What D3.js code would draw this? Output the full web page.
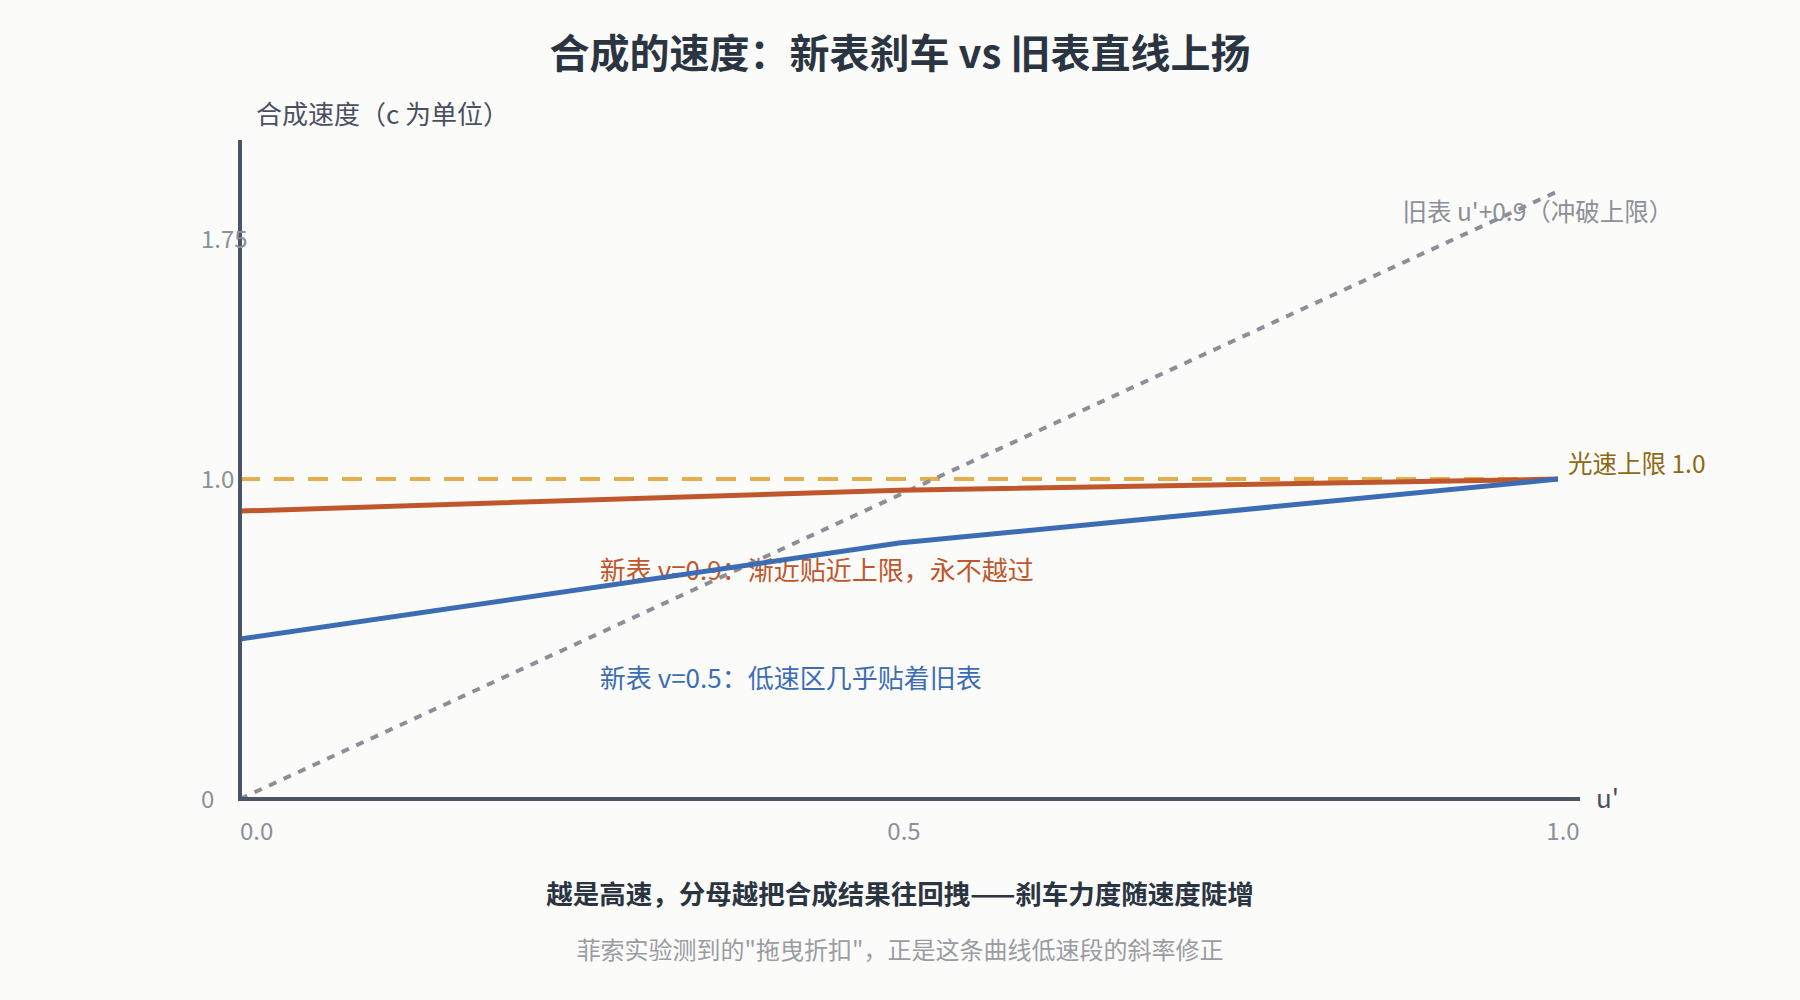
<!DOCTYPE html>
<html>
<head>
<meta charset="utf-8">
<script src="https://cdn.jsdelivr.net/npm/d3@7/dist/d3.min.js"></script>
<style>
  html, body { margin: 0; padding: 0; background: #fbfbf9; }
  svg { display: block; font-family: "Noto Sans CJK SC", "Noto Sans", sans-serif; }
</style>
</head>
<body>
<svg id="svg0" width="1800" height="1000"></svg>
<script>
// data
var uPrime = [0, 0.5, 1];
var newV05 = [0.5, 0.8, 1.0];       // (u'+0.5)/(1+0.5u')
var newV09 = [0.9, 0.9655, 1.0];    // (u'+0.9)/(1+0.9u')
var oldU = [0, 1];
var oldVals = [0, 1.9];
var lightLimit = 1.0;
var xTicks = [0, 0.5, 1];
var xTickLabels = ["0.0", "0.5", "1.0"];
var yTicks = [0, 1, 1.75];
var yTickLabels = ["0", "1.0", "1.75"];

var svg = d3.select("#svg0");
var x = d3.scaleLinear().domain([0, 1]).range([240, 1558]);
var y = d3.scaleLinear().domain([0, 2.06]).range([799, 140]);

// title
svg.append("text").attr("x", 900).attr("y", 68).attr("text-anchor", "middle")
  .style("font-size", "40px").style("font-weight", "bold").style("fill", "#2b3542")
  .text("合成的速度：新表刹车 vs 旧表直线上扬");

svg.append("text").attr("x", 256).attr("y", 124)
  .style("font-size", "26px").style("fill", "#4a5060")
  .text("合成速度（c 为单位）");

// annotations (lines go over them)
svg.append("text").attr("x", x(1) + 10).attr("y", y(lightLimit) - 6)
  .style("font-size", "24.5px").style("fill", "#8c6a14").text("光速上限 1.0");
svg.append("text").attr("x", x(0.882)).attr("y", y(1.806))
  .style("font-size", "24.5px").style("fill", "#8d8f98").text("旧表 u'+0.9（冲破上限）");
svg.append("text").attr("x", x(0.273)).attr("y", y(0.684))
  .style("font-size", "26px").style("fill", "#c0572c").text("新表 v=0.9：渐近贴近上限，永不越过");
svg.append("text").attr("x", x(0.273)).attr("y", y(0.347))
  .style("font-size", "26px").style("fill", "#3c6db4").text("新表 v=0.5：低速区几乎贴着旧表");

var line = d3.line().x(function(d){ return x(d[0]); }).y(function(d){ return y(d[1]); });

// light speed limit
svg.append("line")
  .attr("x1", x(0)).attr("x2", x(1))
  .attr("y1", y(lightLimit)).attr("y2", y(lightLimit))
  .style("stroke", "#e6ae4b").style("stroke-width", 4).style("stroke-dasharray", "20,14");

// old line u'+0.9 (dotted grey)
var oldPts = oldU.map(function(u, i){ return [u, oldVals[i]]; });
svg.append("path").datum(oldPts).attr("d", line)
  .style("fill", "none").style("stroke", "#8d8f98").style("stroke-width", 4)
  .style("stroke-dasharray", "8,8");

svg.append("path").datum(uPrime.map(function(u, i){ return [u, newV09[i]]; })).attr("d", line)
  .style("fill", "none").style("stroke", "#c0572c").style("stroke-width", 5);

svg.append("path").datum(uPrime.map(function(u, i){ return [u, newV05[i]]; })).attr("d", line)
  .style("fill", "none").style("stroke", "#3c6db4").style("stroke-width", 5);

// axes
svg.append("line").attr("x1", x(0)).attr("x2", x(0)).attr("y1", y(0) + 2).attr("y2", y(2.06))
  .style("stroke", "#4a5568").style("stroke-width", 4);
svg.append("line").attr("x1", x(0) - 2).attr("x2", x(1) + 22).attr("y1", y(0)).attr("y2", y(0))
  .style("stroke", "#4a5568").style("stroke-width", 4);

svg.selectAll(".ytick").data(yTicks).enter().append("text")
  .attr("x", x(0) - 39).attr("y", function(d){ return y(d); }).attr("dy", "0.36em")
  .style("font-size", "24px").style("fill", "#8a909c")
  .text(function(d, i){ return yTickLabels[i]; });

svg.selectAll(".xtick").data(xTicks).enter().append("text")
  .attr("x", function(d, i){ return i == 0 ? x(d) : x(d) + 5; })
  .attr("y", y(0) + 41)
  .attr("text-anchor", function(d, i){ return i == 0 ? "start" : "middle"; })
  .style("font-size", "24px").style("fill", "#8a909c")
  .text(function(d, i){ return xTickLabels[i]; });

svg.append("text").attr("x", x(1) + 38).attr("y", y(0)).attr("dy", "0.36em")
  .style("font-size", "26px").style("fill", "#4a5060").text("u'");

// bottom notes
svg.append("text").attr("x", 900).attr("y", 904).attr("text-anchor", "middle")
  .style("font-size", "26.5px").style("font-weight", "bold").style("fill", "#2b3542")
  .text("越是高速，分母越把合成结果往回拽——刹车力度随速度陡增");
svg.append("text").attr("x", 900).attr("y", 959).attr("text-anchor", "middle")
  .style("font-size", "24px").style("fill", "#9a9ca3")
  .text("菲索实验测到的\"拖曳折扣\"，正是这条曲线低速段的斜率修正");
</script>
</body>
</html>
